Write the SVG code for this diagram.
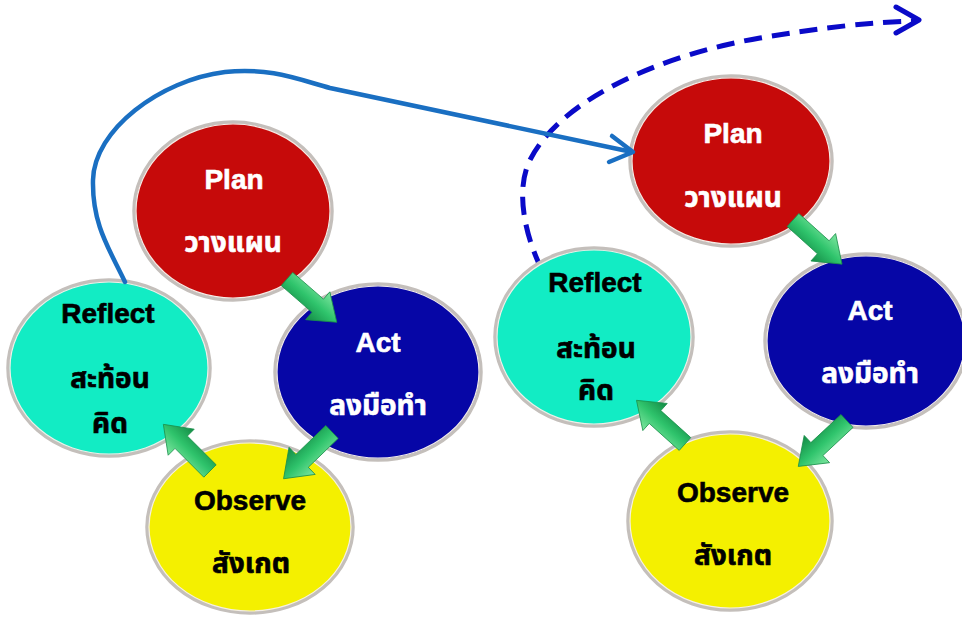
<svg xmlns="http://www.w3.org/2000/svg" width="962" height="620" viewBox="0 0 962 620">
<defs>
<style>
.node{stroke:#c4bfbb;stroke-width:3.5}
.rim{fill:none;stroke:#f4eee8;stroke-width:1.2}
.t{font-family:"Liberation Sans","Noto Sans Thai","Noto Sans",sans-serif;font-weight:bold;font-size:28px;text-anchor:middle;stroke-width:0.6}
.w{fill:#ffffff;stroke:#ffffff}
.k{fill:#000000;stroke:#000000}
.garrow{fill:url(#gg);stroke:#1a8f4a;stroke-width:0.8}
</style>
<linearGradient id="gg" x1="0" y1="0" x2="0" y2="1">
<stop offset="0" stop-color="#7fe6a0"/>
<stop offset="0.5" stop-color="#2fc46c"/>
<stop offset="1" stop-color="#138a45"/>
</linearGradient>
<path id="ga" d="M0,-9 L42,-9 L42,-19 L68,0 L42,19 L42,9 L0,9 Z"/>
</defs>
<rect width="962" height="620" fill="#ffffff"/>

<g id="connector-dashed">
<path d="M541,268 C525,235 515,190 530,160 C560,100 660,55 760,38 C820,28 870,22 914,21" fill="none" stroke="#0a0ac8" stroke-width="5" stroke-dasharray="18,10"/>
<polyline points="896,7 919,20 896,33" fill="none" stroke="#0a0ac8" stroke-width="5" stroke-linecap="round" stroke-linejoin="round"/>
</g>

<g id="left-plan"><ellipse class="node" cx="233" cy="211" rx="99" ry="89" fill="#c60a0a"/><ellipse class="rim" cx="233" cy="211" rx="97" ry="87"/>
<text class="t w" x="234" y="189">Plan</text><text class="t w" x="233" y="252">วางแผน</text></g>
<g id="left-act"><ellipse class="node" cx="378" cy="372" rx="103" ry="88" fill="#0606a6"/><ellipse class="rim" cx="378" cy="372" rx="101" ry="86"/>
<text class="t w" x="378" y="352">Act</text><text class="t w" x="378" y="415">ลงมือทำ</text></g>
<g id="left-reflect"><ellipse class="node" cx="109" cy="368" rx="101" ry="88" fill="#12ecc4"/><ellipse class="rim" cx="109" cy="368" rx="99" ry="86"/>
<text class="t k" x="108" y="323">Reflect</text><text class="t k" x="110" y="388">สะท้อน</text><text class="t k" x="110" y="433">คิด</text></g>
<g id="left-observe"><ellipse class="node" cx="250" cy="527" rx="103" ry="86" fill="#f4f000"/><ellipse class="rim" cx="250" cy="527" rx="101" ry="84"/>
<text class="t k" x="250" y="510">Observe</text><text class="t k" x="251" y="573">สังเกต</text></g>

<g id="right-plan"><ellipse class="node" cx="731" cy="161" rx="101" ry="85" fill="#c60a0a"/><ellipse class="rim" cx="731" cy="161" rx="99" ry="83"/>
<text class="t w" x="733" y="143">Plan</text><text class="t w" x="733" y="207">วางแผน</text></g>
<g id="right-act"><ellipse class="node" cx="866" cy="341" rx="101" ry="87" fill="#0606a6"/><ellipse class="rim" cx="866" cy="341" rx="99" ry="85"/>
<text class="t w" x="870" y="320">Act</text><text class="t w" x="870" y="383">ลงมือทำ</text></g>
<g id="right-reflect"><ellipse class="node" cx="594" cy="337" rx="99" ry="89" fill="#12ecc4"/><ellipse class="rim" cx="594" cy="337" rx="97" ry="87"/>
<text class="t k" x="595" y="292">Reflect</text><text class="t k" x="596" y="358">สะท้อน</text><text class="t k" x="596" y="400">คิด</text></g>
<g id="right-observe"><ellipse class="node" cx="730" cy="521" rx="102" ry="89" fill="#f4f000"/><ellipse class="rim" cx="730" cy="521" rx="100" ry="87"/>
<text class="t k" x="733" y="502">Observe</text><text class="t k" x="733" y="565">สังเกต</text></g>

<g id="connectors">
<use href="#ga" class="garrow" transform="translate(287,279) rotate(41) scale(0.97)"/>
<use href="#ga" class="garrow" transform="translate(332,432) rotate(136) scale(0.99)"/>
<use href="#ga" class="garrow" transform="translate(210,471) rotate(225) scale(0.97)"/>
<use href="#ga" class="garrow" transform="translate(793,220) rotate(42) scale(0.97)"/>
<use href="#ga" class="garrow" transform="translate(847,421) rotate(137) scale(0.98)"/>
<use href="#ga" class="garrow" transform="translate(685,444) rotate(222) scale(0.96)"/>
<path d="M125,282 C110,250 92,225 93,180 C94,130 160,80 225,72 C270,67 300,80 330,88 L632,152" fill="none" stroke="#1a6fc2" stroke-width="4.5" stroke-linecap="round"/>
<polyline points="612,136 633,152 609,162" fill="none" stroke="#1a6fc2" stroke-width="4.5" stroke-linecap="round" stroke-linejoin="round"/>
</g>
</svg>
